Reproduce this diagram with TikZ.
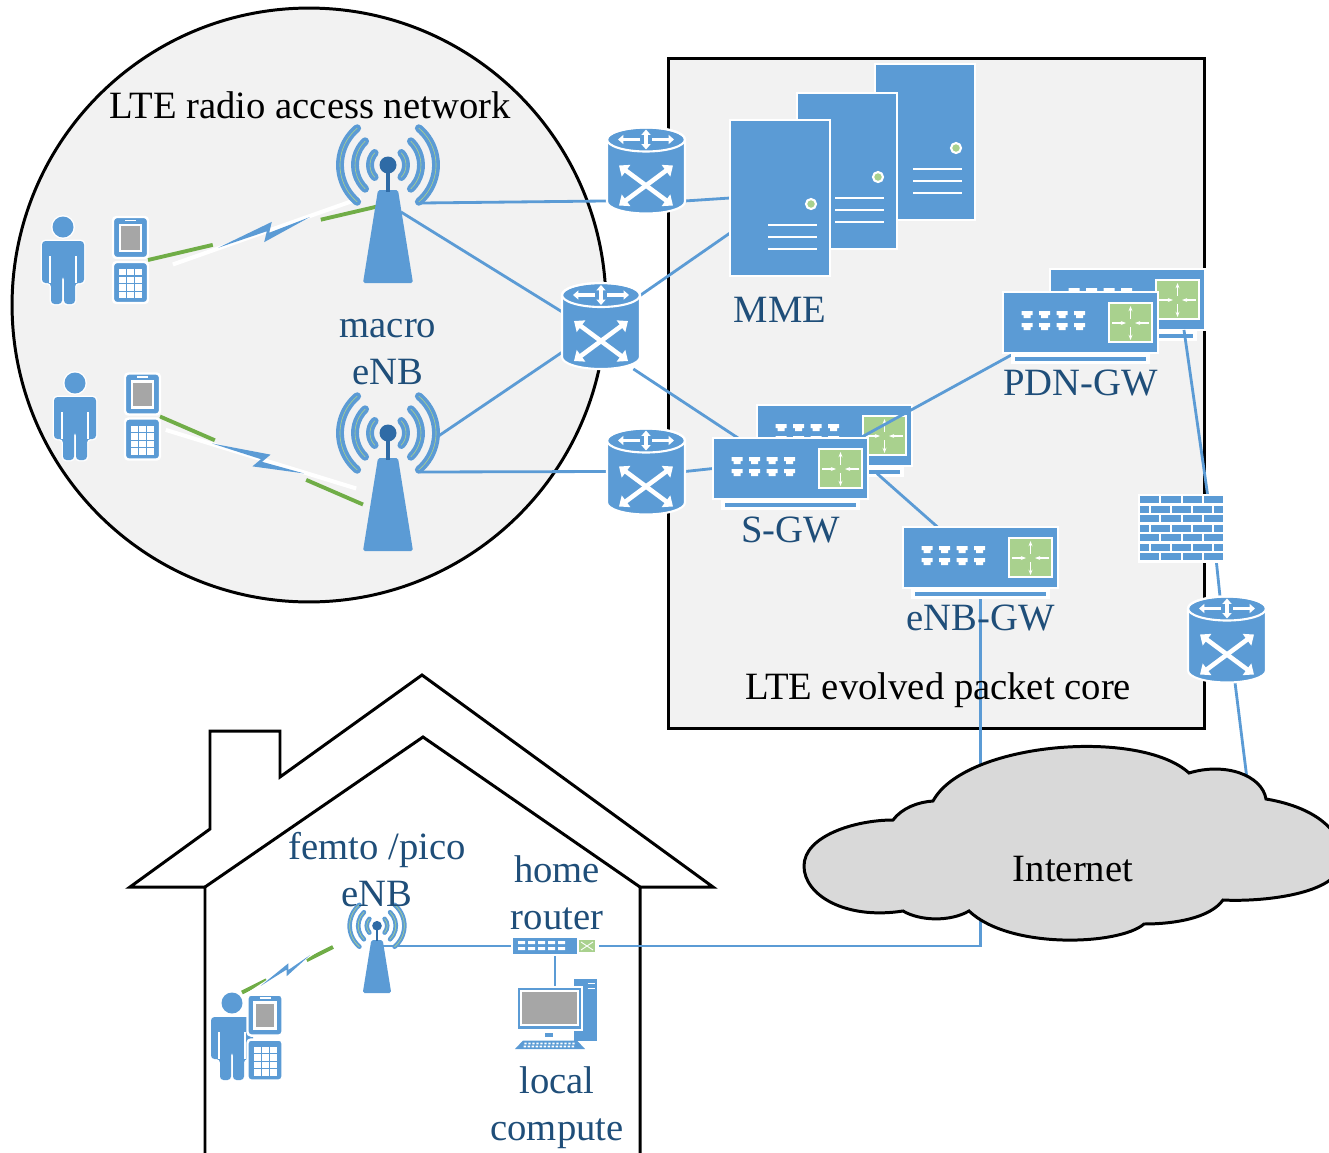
\documentclass[tikz,border=0pt]{standalone}
\usepackage{fontspec}
\setmainfont{Liberation Serif}
\usetikzlibrary{positioning, calc, arrows.meta}

\definecolor{netblue}{HTML}{5B9BD5}
\definecolor{mastblue}{HTML}{2F6BA6}
\definecolor{txtblue}{HTML}{1F4E79}
\definecolor{lgreen}{HTML}{A9D18E}
\definecolor{radiogreen}{HTML}{70AD47}
\definecolor{bggray}{HTML}{F2F2F2}
\definecolor{cloudgray}{HTML}{D9D9D9}
\definecolor{screengray}{HTML}{A6A6A6}

% icons, drawn in pixel units (y grows downwards)
\tikzset{
  wave/.style={draw=netblue, line width=4.5pt, line cap=round, postaction={draw=lgreen, line width=0.35pt}},
  mast/.style={draw=mastblue, line width=2.2pt},
  pics/antenna/.style={code={
    \fill[netblue, rounded corners=1pt] (-10,0) -- (10,0) -- (25,93) -- (-25,93) -- cycle;
    \draw[mast] (0,-25) -- (0,2);
    \fill[mastblue] (0,-25) circle (8.5);
    \foreach \r/\a in {18/42, 33/46, 48/50} {
      \draw[wave] (0,-25) ++(180-\a:\r) arc[start angle=180-\a, end angle=180+\a, radius=\r];
      \draw[wave] (0,-25) ++(-\a:\r) arc[start angle=-\a, end angle=\a, radius=\r];
    }
  }},
  pics/router/.style={code={
    \filldraw[fill=netblue, draw=white, line width=1.2pt] (-39,-31) -- (-39,31)
      arc[start angle=180, end angle=0, x radius=39, y radius=12] -- (39,-31)
      arc[start angle=0, end angle=-180, x radius=39, y radius=12] -- cycle;
    \draw[white, line width=1.2pt] (0,-31) ellipse[x radius=39, y radius=12];
    \draw[white, line width=2.6pt, {Triangle[width=8pt, length=5pt]}-{Triangle[width=8pt, length=5pt]}] (-27,-5) -- (27,35);
    \draw[white, line width=2.6pt, {Triangle[width=8pt, length=5pt]}-{Triangle[width=8pt, length=5pt]}] (-27,35) -- (27,-5);
    \draw[white, line width=1.8pt, -{Triangle[width=5pt, length=3pt]}] (-6,-31) -- (-28,-31);
    \draw[white, line width=1.8pt, -{Triangle[width=5pt, length=3pt]}] (6,-31) -- (28,-31);
    \draw[white, line width=1.8pt, {Triangle[width=5pt, length=3pt]}-{Triangle[width=5pt, length=3pt]}] (0,-41) -- (0,-21);
  }},
  pics/server/.style={code={
    \filldraw[fill=netblue, draw=white, line width=1.5pt] (0,0) rectangle (100,156);
    \filldraw[fill=lgreen, draw=white, line width=1.2pt] (81,84) circle (5);
    \foreach \y in {105,117,129} \draw[white, line width=1.5pt] (38,\y) -- (87,\y);
  }},
  pics/gateway/.style={code={
    \fill[white] (8,61) rectangle (147,72);
    \fill[netblue] (12,65) rectangle (143,69);
    \filldraw[fill=netblue, draw=white, line width=1.4pt] (0,0) rectangle (155,61);
    \filldraw[fill=lgreen, draw=white, line width=1.2pt] (106,11) rectangle (149,50);
    \draw[white, line width=0.7pt, -{Stealth[length=3pt]}] (127.5,27) -- (127.5,14);
    \draw[white, line width=0.7pt, -{Stealth[length=3pt]}] (127.5,35) -- (127.5,48);
    \draw[white, line width=0.7pt, -{Stealth[length=3pt]}] (109,31) -- (123,31);
    \draw[white, line width=0.7pt, -{Stealth[length=3pt]}] (146,31) -- (132,31);
    \foreach \c in {24,41.5,59,76.5} {
      \fill[white] (\c-5.5,19) rectangle (\c+5.5,23) (\c-3.5,23) rectangle (\c+3.5,26);
      \fill[white] (\c-5.5,31) rectangle (\c+5.5,35) (\c-3.5,35) rectangle (\c+3.5,38);
    }
  }},
  pics/firewall/.style={code={
    \fill[white] (0,0) rectangle (87,69);
    \foreach \r in {0,2,4,6} \foreach \k in {0,...,3}
      \fill[netblue] (2+\k*21.25, 2+\r*9.5) rectangle ++(19.25,7);
    \foreach \r in {1,3,5} {
      \fill[netblue] (2, 2+\r*9.5) rectangle ++(8.6,7);
      \foreach \k in {0,1,2} \fill[netblue] (12.6+\k*21.25, 2+\r*9.5) rectangle ++(19.25,7);
      \fill[netblue] (76.4, 2+\r*9.5) rectangle ++(8.6,7);
    }
  }},
  pics/user/.style={code={
    \fill[netblue, preaction={draw=white, line width=1.6pt}] (0,11) circle (10.5);
    \fill[netblue, rounded corners=2pt, preaction={draw=white, line width=1.6pt}]
      (-21,67) -- (-21,25) -- (21,25) -- (21,67) -- (12,67) -- (12,88) -- (1,88)
      -- (1,60) -- (-1,60) -- (-1,88) -- (-12,88) -- (-12,67) -- cycle;
    \draw[white, line width=1.1pt] (-13,40) -- (-13,67) (13,40) -- (13,67);
  }},
  pics/phone/.style={code={
    \filldraw[fill=netblue, draw=white, line width=1.4pt, rounded corners=2pt] (0,0) rectangle (35,41);
    \filldraw[fill=screengray, draw=white, line width=1.2pt] (7,8) rectangle (28,34);
    \draw[white, line width=0.8pt] (12,3.5) -- (23,3.5);
    \filldraw[fill=netblue, draw=white, line width=1.4pt, rounded corners=2pt] (0,45) rectangle (35,86);
    \foreach \c in {0,1,2} \foreach \r in {0,...,3}
      \fill[white] (6+\c*8.2, 52+\r*7.6) rectangle ++(7,6.4);
  }},
  pics/bolt/.style={code={
    \draw[white, line width=2.3pt] (-100,10) -- (98,-12);
    \fill[netblue] (-52,4) -- (6,-9) -- (1,1) -- (44,-5) -- (-6,9) -- (-1,-1) -- cycle;
  }},
  pics/homerouter/.style={code={
    \filldraw[fill=netblue, draw=white, line width=1pt] (-43,-9) rectangle (43,9);
    \filldraw[fill=lgreen, draw=white, line width=0.8pt] (23,-7) rectangle (41,7);
    \draw[white, line width=0.5pt] (26,-4) -- (38,4) (26,4) -- (38,-4);
    \foreach \c in {-33.5,-23.5,-13.5,-3.5,6.5}
      \fill[white] (\c-3.5,-5) rectangle (\c+3.5,-2) (\c-3.5,1) rectangle (\c+3.5,4);
  }},
  pics/computer/.style={code={
    \filldraw[fill=netblue, draw=white, line width=1pt] (23.5,-30.5) rectangle (48.5,33.5);
    \draw[white, line width=1pt] (38,-25) -- (45,-25) (38,-20) -- (45,-20);
    \filldraw[fill=netblue, draw=white, line width=1.2pt] (-32.5,-21.5) rectangle (32.5,21.5);
    \filldraw[fill=screengray, draw=white, line width=0.8pt] (-28.5,-17.5) rectangle (28.5,16.5);
    \fill[netblue] (-4.5,24) rectangle (3.5,28.5);
    \fill[netblue] (-26.5,32) -- (27.5,32) -- (35.5,40.5) -- (-34.5,40.5) -- cycle;
    \foreach \k in {-24,-20,...,24}
      \fill[white] (\k-1.2,34) rectangle (\k+1.2,35.8) (\k-1.8,37) rectangle (\k+0.6,38.8);
  }}
}

\begin{document}
\begin{tikzpicture}[
    x=0.02cm, y=-0.02cm,
    lbl/.style={font=\fontsize{22}{26.7}\selectfont, text=txtblue, align=center, inner sep=0},
    blacklbl/.style={font=\fontsize{22}{26.7}\selectfont, text=black, inner sep=0},
    link/.style={draw=netblue, line width=1.6pt},
    radio/.style={draw=radiogreen, line width=2.2pt},
    zone/.style={draw=black, line width=1.7pt, fill=bggray},
    dev/.style={inner sep=0, outer sep=0},
    towerbox/.style={dev, minimum width=1cm, minimum height=1.86cm},
    femtobox/.style={dev, minimum width=0.6cm, minimum height=1.06cm},
    rtbox/.style={dev, minimum width=1.56cm, minimum height=1.72cm},
    srvbox/.style={dev, minimum width=2cm, minimum height=3.12cm},
    gwbox/.style={dev, minimum width=3.1cm, minimum height=1.22cm},
    fwbox/.style={dev, minimum width=1.74cm, minimum height=1.38cm},
    phbox/.style={dev, minimum width=0.7cm, minimum height=1.72cm},
    usrbox/.style={dev, minimum width=0.84cm, minimum height=1.74cm},
    hrtbox/.style={dev, minimum width=1.72cm, minimum height=0.36cm},
    pcbox/.style={dev, minimum width=1.3cm, minimum height=0.86cm}
]
\useasboundingbox (0,0) rectangle (1329,1153);
\clip (0,0) rectangle (1329,1153);

% Areas
\node[zone, circle, minimum size=11.88cm] (ran) at (309,305) {};
\node[zone, rectangle, minimum width=10.74cm, minimum height=13.42cm] (epc) at (936.5,393.5) {};
\draw[line width=1.7pt] (205,1160) -- (205,887) -- (130,887) -- (210,829) -- (210,731)
  -- (280,731) -- (280,777) -- (422,675) -- (713,887) -- (640,887) -- (640,1160);
\draw[line width=1.7pt] (205,887) -- (423,737) -- (640,887);

% Device places
\node[towerbox] (enb1) at (388,236.5) {};
\node[towerbox] (enb2) at (388,504.5) {};
\node[usrbox] (usr1) at (63,259.5) {};
\node[phbox] (ph1) at (130.5,260) {};
\node[usrbox] (usr2) at (75,415.5) {};
\node[phbox] (ph2) at (142.5,416.5) {};

\node[rtbox] (rt1) at (646,170.5) {};
\node[rtbox] (rt2) at (601,326) {};
\node[rtbox] (rt3) at (646,471.5) {};
\node[rtbox] (rt4) at (1227,639.5) {};

\node[srvbox] (mme3) at (925,142) {};
\node[srvbox] (mme2) at (847,171) {};
\node[srvbox] (mme1) at (780,198) {};
\node[gwbox] (sgw2) at (834.5,435.5) {};
\node[gwbox] (sgw) at (790.5,468.5) {};
\node[gwbox] (pdn2) at (1127.5,299.5) {};
\node[gwbox] (pdn) at (1080.5,322.5) {};
\node[gwbox] (egw) at (980.5,557.5) {};
\node[fwbox] (fw) at (1181.5,528.5) {};

\node[femtobox] (enb3) at (377,966.5) {};
\node[usrbox] (usr3) at (232,1035.5) {};
\node[phbox] (ph3) at (265,1037.5) {};
\node[hrtbox] (hrt) at (555,946) {};
\node[pcbox] (pc) at (549.5,1008.5) {};
\coordinate (cloudtop) at (1249,795);

% Boxes at the back
\pic at (mme3.north west) {server};
\pic at (mme2.north west) {server};
\pic at (sgw2.north west) {gateway};
\pic at (pdn2.north west) {gateway};

% Backhaul and core links
\draw[link] ([xshift=0.16cm, yshift=-0.26cm]enb1.north east) -- (rt1.218);
\draw[link] (rt1.322) -- (mme1.west);
\draw[link] ([xshift=0.26cm, yshift=-0.44cm]enb1.north) -- (rt2.160);
\draw[link] ([xshift=0.98cm, yshift=0.42cm]enb2.north) -- (rt2.214);
\draw[link] ([xshift=0.64cm, yshift=-0.28cm]enb2.north) -- (rt3.west);
\draw[link] (rt2.38) -- (mme1.215);
\draw[link] (rt2.307) -- ([xshift=0.5cm]sgw.north west);
\draw[link] (rt3.east) -- (sgw.west);
\draw[link] ([xshift=-0.16cm]sgw.north east) -- ([xshift=0.24cm]pdn.south west);
\draw[link] ([xshift=0.18cm, yshift=-0.1cm]sgw.east) -- ([xshift=-0.86cm]egw.north);
\draw[link] ([xshift=-0.42cm]pdn2.south east) -- ([xshift=0.52cm]fw.north);
\draw[link] ([xshift=0.7cm]fw.south) -- ([xshift=-0.14cm]rt4.north);
\draw[link] ([xshift=0.16cm]rt4.south) -- (cloudtop);
\draw[link] (egw.south) |- (hrt.east);
\draw[link] (enb3.center |- hrt.west) -- (hrt.west);
\draw[link] (hrt.south) -- (hrt.south |- pc.north);

% Radio links
\coordinate (fd1) at ([yshift=-0.28cm]enb1.north);
\coordinate (fd3) at ([xshift=-0.58cm, yshift=-0.14cm]enb3.north west);
\coordinate (ue3) at ([xshift=-0.11cm, yshift=0.04cm]ph3.north west);
\draw[radio] (ph1.east) -- ($(ph1.east)!0.27!(fd1)$) ($(ph1.east)!0.72!(fd1)$) -- (fd1);
\path (ph1.east) -- (fd1) pic[pos=0.5, sloped] {bolt};
\draw[radio] (ph2.east) -- ($(ph2.east)!0.27!(enb2.west)$) ($(ph2.east)!0.72!(enb2.west)$) -- (enb2.west);
\path (ph2.east) -- (enb2.west) pic[pos=0.5, sloped] {bolt};
\draw[radio] (ue3) -- ($(ue3)!0.27!(fd3)$) ($(ue3)!0.71!(fd3)$) -- (fd3);
\path (ue3) -- (fd3) pic[pos=0.5, sloped, scale=0.6] {bolt};

% Devices
\pic at (enb1.north) {antenna};
\pic at (enb2.north) {antenna};
\pic[scale=0.57, wave/.append style={line width=2.6pt}, mast/.append style={line width=1.3pt}] at (enb3.north) {antenna};
\pic at (rt1) {router};
\pic at (rt2) {router};
\pic at (rt3) {router};
\pic at (rt4) {router};
\pic at (mme1.north west) {server};
\pic at (sgw.north west) {gateway};
\pic at (pdn.north west) {gateway};
\pic at (egw.north west) {gateway};
\pic at (fw.north west) {firewall};
\pic at (hrt) {homerouter};
\pic at (pc) {computer};
\pic at (usr1.north) {user};
\pic at (usr2.north) {user};
\pic at (usr3.north) {user};
\pic at (ph1.north west) {phone};
\pic at (ph2.north west) {phone};
\pic at (ph3.north west) {phone};

% Internet cloud
\draw[line width=1.7pt, fill=cloudgray] (933,801)
  .. controls (965,742) and (1140,728) .. (1189,773)
  .. controls (1225,762) and (1262,775) .. (1266,799)
  .. controls (1320,808) and (1345,835) .. (1342,862)
  .. controls (1338,895) and (1260,902) .. (1223,900)
  .. controls (1210,918) and (1175,924) .. (1144,924)
  .. controls (1120,945) and (1010,950) .. (969,911)
  .. controls (950,922) and (920,921) .. (903,911)
  .. controls (845,920) and (804,895) .. (804,866)
  .. controls (804,836) and (855,820) .. (893,820)
  .. controls (902,808) and (918,802) .. (933,801) -- cycle;

% Labels
\node[blacklbl] (ranlbl) at (310,105) {LTE radio access network};
\node[blacklbl] (epclbl) at (938,690) {LTE evolved packet core};
\node[blacklbl] (inet) at (1073,869) {Internet};
\node[lbl] (enblbl) at (388,352) {macro\\eNB};
\node[lbl, below=0.42cm of mme1] (mmelbl) {MME};
\node[lbl, below=0.36cm of sgw] (sgwlbl) {S-GW};
\node[lbl, below=0.34cm of pdn] (pdnlbl) {PDN-GW};
\node[lbl, below=0.34cm of egw] (egwlbl) {eNB-GW};
\node[lbl] (femlbl) at (377,870) {femto /pico\\eNB};
\node[lbl] (hrtlbl) at (557,892.5) {home\\router};
\node[lbl] (pclbl) at (557,1107.5) {local\\compute};

\end{tikzpicture}
\end{document}
